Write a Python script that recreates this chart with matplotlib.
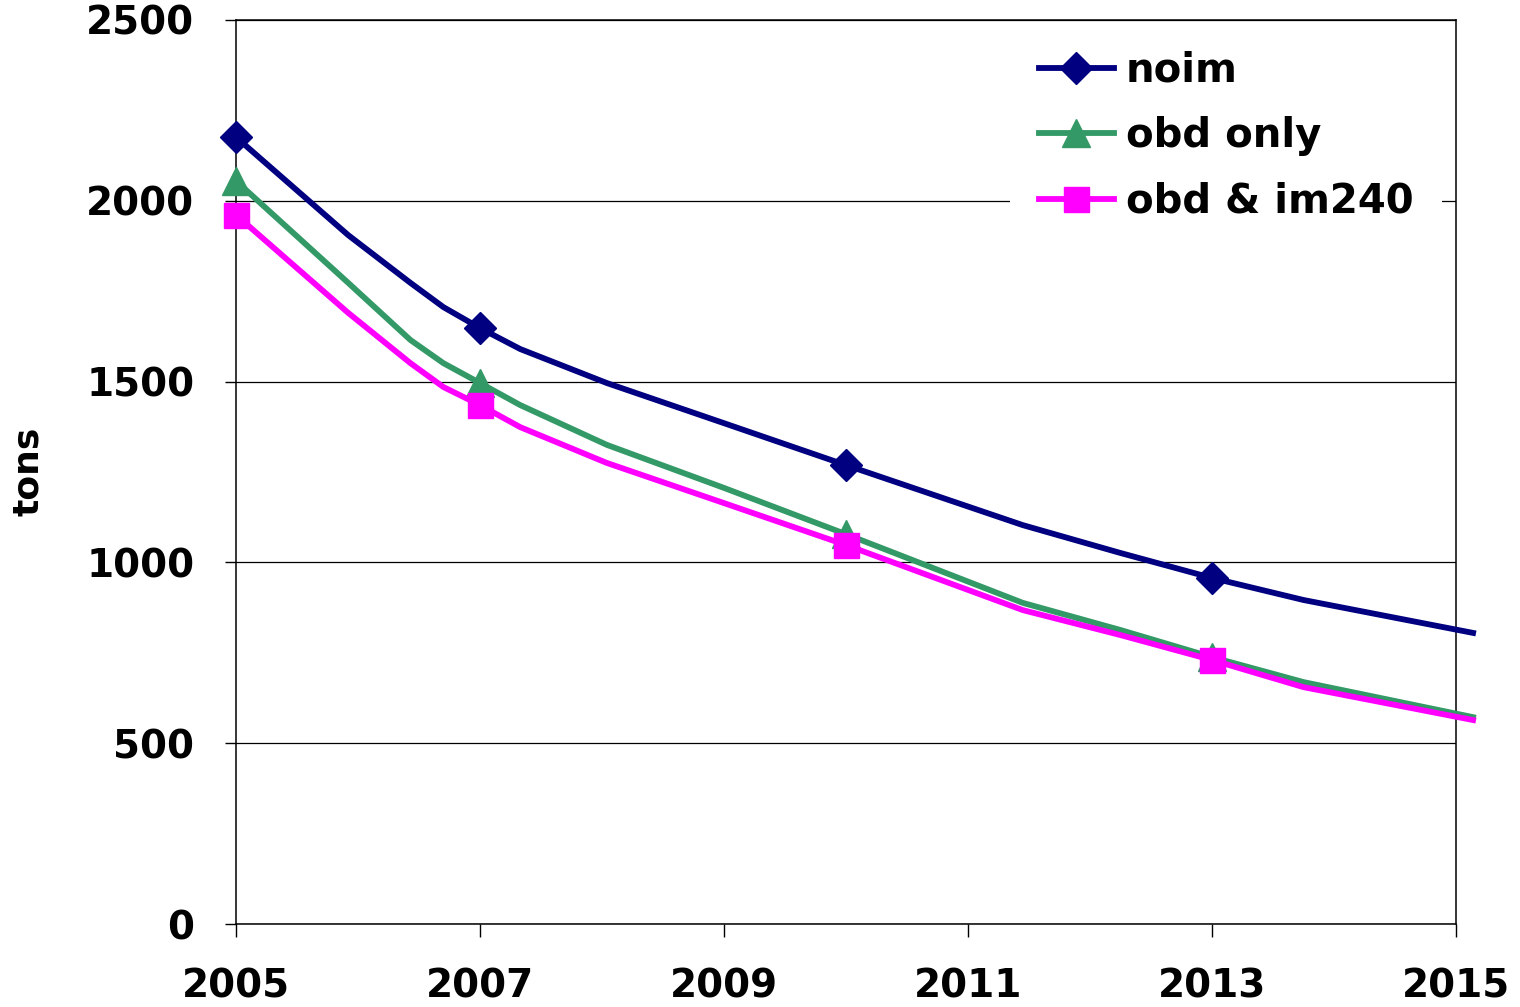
import matplotlib.pyplot as plt

years = [2005, 2005.92, 2006.43, 2006.70, 2007, 2007.33, 2008.04, 2009,
         2010, 2011.45, 2012.25, 2013, 2013.75, 2015.14]
noim = [2176, 1905, 1773, 1706, 1648, 1590, 1496, 1385,
        1269, 1103, 1026, 957, 896, 805]
obd_only = [2055, 1773, 1615, 1551, 1496, 1435, 1325, 1206,
            1078, 888, 813, 738, 669, 572]
obd_im240 = [1961, 1690, 1551, 1485, 1435, 1374, 1275, 1164,
             1048, 868, 799, 730, 655, 564]
marked = [0, 4, 8, 11]

x_ticks = [2005, 2007, 2009, 2011, 2013, 2015]
y_ticks = [0, 500, 1000, 1500, 2000, 2500]

plt.rcParams['font.family'] = 'DejaVu Sans'
plt.rcParams['font.weight'] = 'bold'

fig = plt.figure(figsize=(15.2, 10.07), dpi=100)
ax = fig.add_axes([236/1520, 1 - 924/1007, 1220/1520, 904/1007])

ax.plot(years, noim, color='#000080', lw=4.2, marker='D', ms=16,
        markevery=marked, label='noim', clip_on=False, zorder=3)
ax.plot(years, obd_only, color='#339966', lw=4.2, marker='^', ms=20,
        markevery=marked, label='obd only', clip_on=False, zorder=3)
ax.plot(years, obd_im240, color='#FF00FF', lw=4.2, marker='s', ms=18,
        markevery=marked, label='obd & im240', clip_on=False, zorder=3)

ax.set_xlim(2005, 2015)
ax.set_ylim(0, 2500)
ax.set_xticks(x_ticks)
ax.set_yticks(y_ticks)
ax.tick_params(axis='x', direction='out', length=9.5, width=1, pad=22, labelsize=28)
ax.tick_params(axis='y', direction='out', length=8, width=1, pad=22, labelsize=28)
ax.yaxis.grid(True, color='black', lw=0.9)
for s in ax.spines.values():
    s.set_linewidth(1.1)
    s.set_color('black')
    s.set_zorder(2.6)

fig.text(28/1520, 1 - 471/1007, 'tons', rotation=90, fontsize=26,
         fontweight='bold', ha='center', va='center')

leg = ax.legend(loc='upper left', bbox_to_anchor=(1010/1520, 1 - 22/1007),
                bbox_transform=fig.transFigure, fontsize=29, frameon=True,
                fancybox=False, framealpha=1, edgecolor='none',
                handlelength=1.85, handletextpad=0.3, labelspacing=0.63,
                borderpad=0.72, borderaxespad=0)
leg.set_zorder(2.2)

fig.savefig('out.png', dpi=100)
